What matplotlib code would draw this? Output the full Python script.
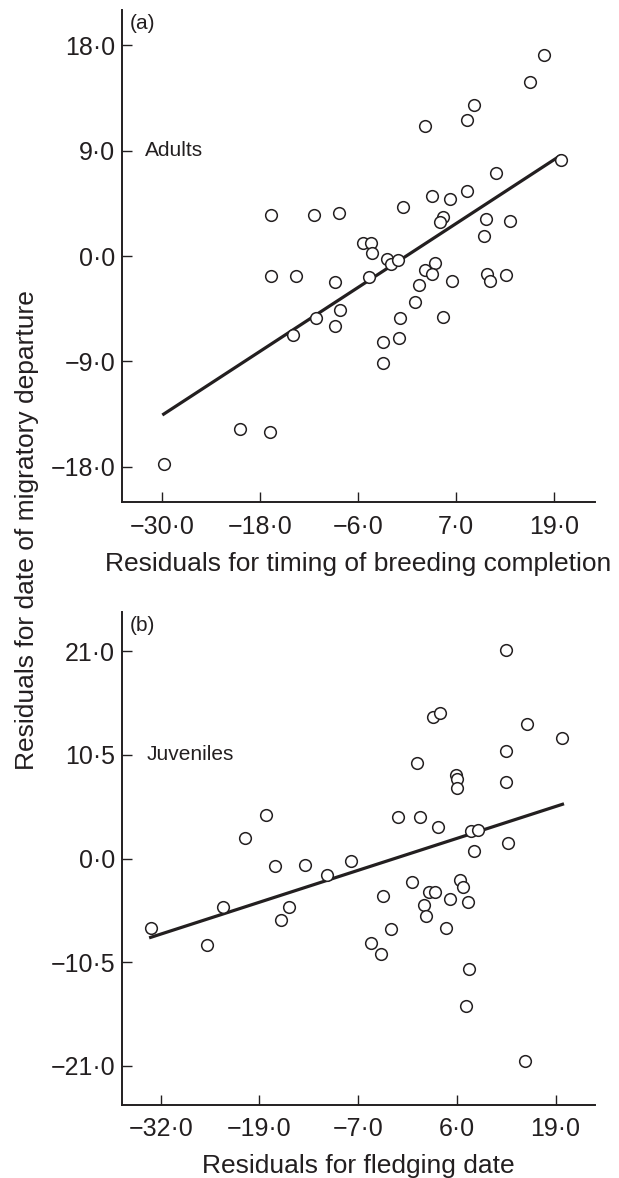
import matplotlib
matplotlib.use("Agg")
import matplotlib.pyplot as plt

plt.rcParams["font.family"] = ["Liberation Sans", "DejaVu Sans"]

INK = "#231f20"

# (a) Adultos
adults_x = [-16.7, -11.4, -8.3, 16.7, 15.1, 8.2, 7.3, 2.2, 18.8, 10.9, 7.3, 3.1, 5.3, -0.5, 4.4,
            4.0, 9.6, 12.6, 9.4, -5.4, -4.4, -4.3, -2.5, -2.0, -1.1, -4.7, 2.2, 3.4, 3.0, 5.5,
            1.4, 9.8, 10.1, 12.1, 1.0, -0.9, 4.4, -2.9, -1.0, -2.9, -16.7, -13.6, -8.8, -8.2,
            -11.1, -8.8, -14.0, -20.4, -16.8, -29.8]
adults_y = [3.50, 3.50, 3.64, 17.15, 14.85, 12.86, 11.58, 11.09, 8.19, 7.06, 5.57, 5.15, 4.84,
            4.16, 3.35, 2.93, 3.13, 2.99, 1.71, 1.07, 1.07, 0.28, -0.28, -0.71, -0.34, -1.82,
            -1.19, -0.57, -1.56, -2.11, -2.47, -1.54, -2.16, -1.60, -3.95, -5.26, -5.23, -7.31,
            -7.02, -9.16, -1.68, -1.68, -2.19, -4.61, -5.26, -5.97, -6.77, -14.79, -15.04, -17.75]
adults_fit_x = [-29.8, 18.6]
adults_fit_y = [-13.5, 8.5]
adults_ticks = [-30, -18, -6, 6, 18]
adults_ticklabels = ["−30·0", "−18·0", "−6·0", "7·0", "19·0"]
adults_yticks = [-18, -9, 0, 9, 18]
adults_yticklabels = ["−18·0", "−9·0", "0·0", "9·0", "18·0"]

# (b) Juveniles
juv_x = [-18.35, -21.06, -17.28, -13.41, -10.53, -7.47, 12.54, 3.16, 4.11, 15.30, 19.87, 12.54,
         1.14, 6.18, 6.26, 6.31, 12.54, -1.31, 1.53, 3.86, 8.03, 8.97, 12.80, 8.50, 0.50, 6.61,
         7.03, -33.20, -25.97, -23.96, -16.47, -15.43, -3.30, 2.60, 3.38, 1.96, 2.31, 5.41,
         7.68, -2.21, 4.80, -4.80, -3.50, 7.77, 7.47, 15.00]
juv_y = [4.42, 2.12, -0.76, -0.66, -1.68, -0.22, 21.10, 14.36, 14.80, 13.68, 12.22, 10.93, 9.68,
         8.42, 8.08, 7.20, 7.78, 4.25, 4.25, 3.17, 2.80, 2.90, 1.55, 0.73, -2.36, -2.19, -2.90,
         -7.04, -8.80, -4.96, -6.25, -4.96, -3.78, -3.38, -3.38, -4.73, -5.85, -4.15, -4.39,
         -7.17, -7.04, -8.62, -9.71, -11.17, -14.97, -20.49]
juv_fit_x = [-33.3, 19.9]
juv_fit_y = [-8.0, 5.5]
juv_ticks = [-32, -19.25, -6.5, 6.25, 19]
juv_ticklabels = ["−32·0", "−19·0", "−7·0", "6·0", "19·0"]
juv_yticks = [-21, -10.5, 0, 10.5, 21]
juv_yticklabels = ["−21·0", "−10·5", "0·0", "10·5", "21·0"]

W, H = 619, 1178
fig = plt.figure(figsize=(W / 100, H / 100), dpi=100)


def panel(rect, x, y, fx, fy, xt, xtl, yt, ytl, xlim, ylim, letra, nombre, nombre_pos):
    ax = fig.add_axes(rect)
    ax.plot(x, y, "o", ms=8.4, mfc="white", mec=INK, mew=1.1, zorder=3)
    ax.plot(fx, fy, "-", color=INK, lw=2.3, zorder=2)
    ax.set_xlim(*xlim)
    ax.set_ylim(*ylim)
    ax.set_xticks(xt)
    ax.set_xticklabels(xtl)
    ax.set_yticks(yt)
    ax.set_yticklabels(ytl)
    for s in ["top", "right"]:
        ax.spines[s].set_visible(False)
    for s in ["left", "bottom"]:
        ax.spines[s].set_linewidth(1.4)
        ax.spines[s].set_color(INK)
    ax.tick_params(direction="in", length=7.5, width=1.0, color=INK, labelcolor=INK,
                   labelsize=18)
    ax.tick_params(axis="x", pad=9)
    ax.tick_params(axis="y", pad=5)
    ax.text(0.017, 0.972, letra, transform=ax.transAxes, fontsize=15, color=INK,
            ha="left", va="center")
    ax.text(nombre_pos[0], nombre_pos[1], nombre, fontsize=15, color=INK, ha="left", va="center")
    return ax


panel([122 / W, 1 - 502 / H, 473 / W, 492 / H], adults_x, adults_y, adults_fit_x, adults_fit_y,
      adults_ticks, adults_ticklabels, adults_yticks, adults_yticklabels,
      (-34.9, 23.0), (-21, 21), "(a)", "Adults", (-32.1, 9.0))
panel([122 / W, 1 - 1105 / H, 473 / W, 493 / H], juv_x, juv_y, juv_fit_x, juv_fit_y,
      juv_ticks, juv_ticklabels, juv_yticks, juv_yticklabels,
      (-37.0, 24.1), (-25, 25), "(b)", "Juveniles", (-33.8, 10.5))

fig.text(358.5 / W, 1 - 571 / H, "Residuals for timing of breeding completion", fontsize=19,
         color=INK, ha="center", va="baseline")
fig.text(358.5 / W, 1 - 1173 / H, "Residuals for fledging date", fontsize=19,
         color=INK, ha="center", va="baseline")
fig.text(27 / W, 1 - 530 / H, "Residuals for date of migratory departure", fontsize=19,
         color=INK, ha="center", va="center", rotation=90)

fig.savefig("out.png", dpi=100)
